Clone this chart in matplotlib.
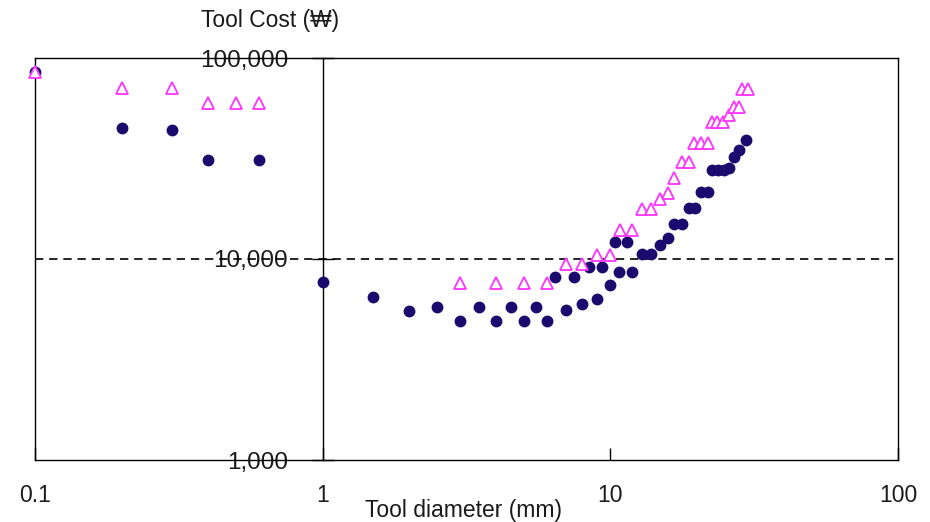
import matplotlib
matplotlib.use("Agg")
import matplotlib.pyplot as plt
from matplotlib.ticker import NullLocator

plt.rcParams['font.family'] = ['Liberation Sans', 'DejaVu Sans']

# tool diameter (mm) / tool cost (won) - filled circles
circle_d = [0.1, 0.2, 0.3, 0.4, 0.6, 1.0, 1.5, 2.0, 2.5, 3.0, 3.5, 4.0, 4.5, 5.0,
            5.5, 6.0, 6.4, 7.0, 7.5, 8.0, 8.4, 9.0, 9.35, 10.0, 10.4, 10.7, 11.4,
            11.9, 12.9, 13.8, 14.9, 15.9, 16.6, 17.7, 18.8, 19.7, 20.6, 21.8,
            22.6, 23.7, 24.9, 25.8, 26.9, 28.1, 29.7]
circle_cost = [85000, 45000, 44000, 31000, 31000, 7700, 6500, 5500, 5800, 4900,
               5800, 4900, 5800, 4900, 5800, 4900, 8100, 5600, 8100, 6000, 9100,
               6300, 9100, 7400, 12200, 8650, 12200, 8650, 10550, 10550, 11700,
               12700, 14900, 14900, 18000, 18000, 21600, 21600, 27600, 27600,
               27600, 28500, 32300, 34900, 39000]

# open triangles
tri_d = [0.1, 0.2, 0.3, 0.4, 0.5, 0.6, 3, 4, 5, 6, 7, 8, 9, 10, 10.8, 11.9,
         12.9, 13.8, 14.9, 15.9, 16.7, 17.7, 18.8, 19.6, 20.6, 21.8, 22.5,
         23.5, 24.6, 25.8, 26.9, 27.9, 28.8, 30.0]
tri_cost = [85000, 70600, 70600, 59600, 59600, 59600, 7600, 7600, 7600, 7600,
            9400, 9400, 10500, 10500, 14000, 14000, 17700, 17700, 19800, 21400,
            25400, 30500, 30500, 37900, 37900, 37900, 48200, 48200, 48200,
            52000, 57300, 57300, 70000, 70000]

x_ticks = [0.1, 1, 10, 100]
x_labels = ['0.1', '1', '10', '100']
y_ticks = [1000, 10000, 100000]
y_labels = ['1,000', '10,000', '100,000']

txt = '#1a1a1a'

fig = plt.figure(figsize=(9.3, 5.22), dpi=100)
ax = fig.add_axes([35 / 930, 62 / 522, 863 / 930, 402 / 522])

ax.set_xscale('log')
ax.set_yscale('log')
ax.set_xlim(0.1, 100)
ax.set_ylim(1000, 100000)

ax.axhline(10000, color='black', lw=1.2, linestyle=(0, (5, 3.5)), zorder=1)

ax.plot(circle_d, circle_cost, linestyle='none', marker='o', ms=7.5,
        color='#1b0b6e', mec='#1b0b6e', clip_on=False, zorder=3)
ax.plot(tri_d, tri_cost, linestyle='none', marker='^', ms=8, mfc='white',
        mec='#ff33ff', mew=1.3, clip_on=False, zorder=4)

for s in ax.spines.values():
    s.set_linewidth(1.0)
    s.set_color('black')

# x axis
ax.xaxis.set_minor_locator(NullLocator())
ax.set_xticks(x_ticks, labels=x_labels)
ax.tick_params(axis='x', direction='in', length=9, width=1, pad=17,
               labelsize=16.5, labelcolor=txt, top=False)
# y axis on main frame: no ticks
ax.yaxis.set_minor_locator(NullLocator())
ax.tick_params(axis='y', which='both', left=False, labelleft=False)

# cost axis drawn at diameter = 1
sec = ax.secondary_yaxis(1 / 3)
sec.spines['left'].set_linewidth(1.0)
sec.set_yticks(y_ticks, labels=y_labels)
sec.yaxis.set_minor_locator(NullLocator())
sec.tick_params(which='major', direction='inout', length=16, width=1,
                pad=17, labelsize=17.5, labelcolor=txt)

fig.text(270 / 930, 1 - 20 / 522, 'Tool Cost (\u20a9)', ha='center', va='center',
         fontsize=16.5, color=txt)
fig.text(463 / 930, 1 - 511 / 522, 'Tool diameter (mm)', ha='center', va='center',
         fontsize=16.5, color=txt)

fig.savefig('out.png', dpi=100, facecolor='white')
